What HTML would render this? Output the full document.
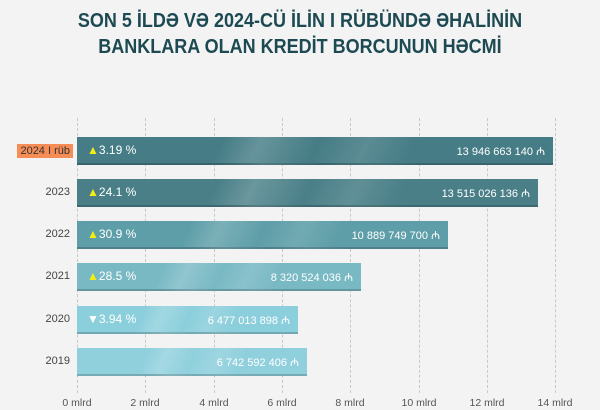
<!DOCTYPE html>
<html><head><meta charset="utf-8"><style>
body{margin:0;width:600px;height:410px;overflow:hidden;background:#f3f3f3;font-family:"Liberation Sans",sans-serif;position:relative}
.t{position:absolute;left:0;width:600px;text-align:center;color:#1d4a52;font-weight:bold;font-size:20px;transform:scaleX(0.9);transform-origin:300px 0}
.g{position:absolute;top:118px;height:275px;border-left:1px dashed #c8c8c8}
.bar{position:absolute;left:77px;height:28px;border-bottom:2px solid rgba(0,0,0,0.18);box-sizing:border-box;background-image:linear-gradient(115deg,rgba(255,255,255,0) 30%,rgba(255,255,255,0.18) 38%,rgba(255,255,255,0) 50%,rgba(255,255,255,0.12) 60%,rgba(255,255,255,0) 70%)}
.v{position:absolute;right:8px;top:7px;color:#fff;font-size:11px}
.p{position:absolute;left:10px;top:6px;color:#fff;font-size:12px}
.p b{color:#f5ee12;font-weight:normal}
.y{position:absolute;right:530px;font-size:11px;color:#444}
.x{position:absolute;top:397px;font-size:10.5px;color:#555;width:60px;text-align:center}
</style></head><body>
<div class="t" style="top:10px">SON 5 İLDƏ VƏ 2024-CÜ İLİN I RÜBÜNDƏ ƏHALİNİN</div>
<div class="t" style="top:36px">BANKLARA OLAN KREDİT BORCUNUN HƏCMİ</div>
<div class="g" style="left:77px"></div><div class="g" style="left:145px"></div><div class="g" style="left:214px"></div><div class="g" style="left:282px"></div><div class="g" style="left:350px"></div><div class="g" style="left:419px"></div><div class="g" style="left:487px"></div><div class="g" style="left:555px"></div>
<div class="bar" style="top:137px;width:476px;background-color:#457c85"><span class="p"><b>▲</b>3.19 %</span><span class="v">13 946 663 140 ₼</span></div>
<div class="bar" style="top:179px;width:461px;background-color:#4a7f88"><span class="p"><b>▲</b>24.1 %</span><span class="v">13 515 026 136 ₼</span></div>
<div class="bar" style="top:221px;width:371px;background-color:#5e9ea8"><span class="p"><b>▲</b>30.9 %</span><span class="v">10 889 749 700 ₼</span></div>
<div class="bar" style="top:263px;width:284px;background-color:#79b9c4"><span class="p"><b>▲</b>28.5 %</span><span class="v">8 320 524 036 ₼</span></div>
<div class="bar" style="top:306px;width:221px;background-color:#8ccfdc"><span class="p">▼3.94 %</span><span class="v">6 477 013 898 ₼</span></div>
<div class="bar" style="top:348px;width:230px;background-color:#90d0dd"><span class="v">6 742 592 406 ₼</span></div>
<div class="y" style="top:144px;right:527px;background:#f58d55;padding:1px 3px;color:#333">2024 I rüb</div>
<div class="y" style="top:186px">2023</div>
<div class="y" style="top:228px">2022</div>
<div class="y" style="top:270px">2021</div>
<div class="y" style="top:313px">2020</div>
<div class="y" style="top:355px">2019</div>
<div class="x" style="left:47px">0 mlrd</div><div class="x" style="left:115px">2 mlrd</div><div class="x" style="left:184px">4 mlrd</div><div class="x" style="left:252px">6 mlrd</div><div class="x" style="left:320px">8 mlrd</div><div class="x" style="left:389px">10 mlrd</div><div class="x" style="left:457px">12 mlrd</div><div class="x" style="left:525px">14 mlrd</div>
</body></html>
